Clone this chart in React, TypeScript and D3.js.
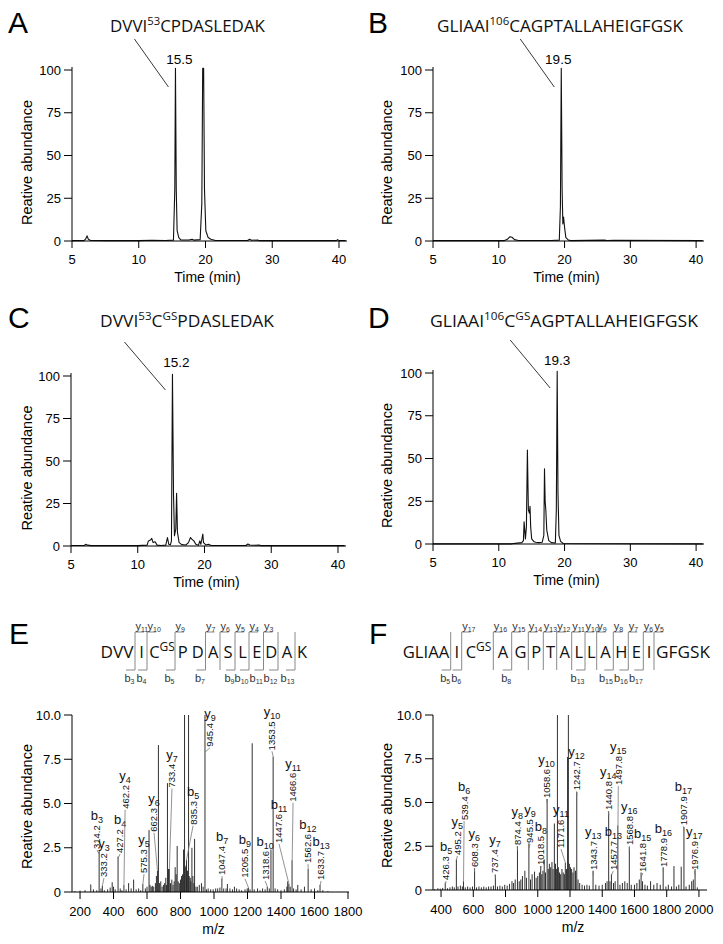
import React from "react";
import * as d3 from "d3";

type Pt = [number, number];
type Part = { t: string; sup?: boolean };

// ---------- data ----------
const chromTicks = [0, 10, 20, 30, 40];
const chromTickLabels = ["5", "10", "20", "30", "40"];
const abundTicks = [0, 25, 50, 75, 100];

const traceA: Pt[] = [[0,0.2],[1.8,0.2],[2.05,1.2],[2.25,3],[2.45,1],[2.8,0.3],[5,0.2],[10,0.2],[12,0.4],[14,0.3],[15.2,0.5],[15.4,30],[15.5,101],[15.62,30],[15.75,6],[16,2],[16.3,0.6],[17.5,0.6],[18,1],[18.3,0.5],[19.2,0.8],[19.45,22],[19.58,101],[19.72,101],[19.85,30],[20.05,6],[20.4,2],[20.8,1],[21.5,0.3],[26.3,0.3],[26.6,1],[26.9,0.4],[27.8,0.6],[28.1,0.2],[39.6,0.2],[39.8,0.8],[40,0.2],[41,0.2]];
const traceB: Pt[] = [[0,0.2],[10.8,0.2],[11.3,1],[11.7,2.5],[12,2.2],[12.4,0.8],[13,0.3],[18,0.3],[19.2,0.5],[19.37,20],[19.5,101],[19.63,30],[19.74,10],[19.85,14],[20,8],[20.2,2],[20.6,0.5],[21,0.2],[26,0.5],[26.5,0.3],[27.5,0.4],[41,0.2]];
const traceC: Pt[] = [[0,0.3],[2,0.3],[2.2,1],[2.5,0.5],[3,0.2],[10,0.2],[11.4,0.5],[11.6,3],[11.9,3.5],[12.1,4.5],[12.3,2],[12.6,2.5],[12.9,0.5],[13.5,0.3],[14.2,0.5],[14.45,5],[14.65,1],[14.9,0.8],[15.05,3],[15.2,101],[15.36,30],[15.5,6],[15.7,10],[15.82,31],[15.95,8],[16.2,2],[16.6,0.8],[17.2,0.6],[17.6,2],[17.9,5],[18.1,4],[18.4,3],[18.7,1],[19.1,0.5],[19.3,3],[19.45,1],[19.65,5],[19.75,7],[19.85,2],[20.2,0.6],[20.6,1],[21,0.3],[26.2,0.3],[26.5,1.2],[26.8,0.6],[27.5,0.4],[28.2,0.5],[28.5,0.2],[41,0.2]];
const traceD: Pt[] = [[0,0.1],[12,0.1],[12.8,0.5],[13.5,0.8],[13.75,2],[13.85,13],[13.95,8],[14.05,3],[14.2,10],[14.35,55],[14.5,20],[14.65,18],[14.75,22],[14.85,10],[15,3],[15.3,1.5],[15.6,1],[16.1,0.8],[16.6,1],[16.85,5],[16.95,44],[17.05,25],[17.15,20],[17.3,8],[17.6,2],[18,0.8],[18.6,0.6],[18.75,20],[18.88,101],[19,30],[19.15,5],[19.4,1.5],[19.8,0.3],[41,0.1]];

const titleA: Part[] = [{ t: "DVVI" }, { t: "53", sup: true }, { t: "CPDASLEDAK" }];
const titleB: Part[] = [{ t: "GLIAAI" }, { t: "106", sup: true }, { t: "CAGPTALLAHEIGFGSK" }];
const titleC: Part[] = [{ t: "DVVI" }, { t: "53", sup: true }, { t: "C" }, { t: "GS", sup: true }, { t: "PDASLEDAK" }];
const titleD: Part[] = [{ t: "GLIAAI" }, { t: "106", sup: true }, { t: "C" }, { t: "GS", sup: true }, { t: "AGPTALLAHEIGFGSK" }];

const specYTicks = [0, 2.5, 5, 7.5, 10];
const specYTickLabels = ["0", "2.5", "5.0", "7.5", "10.0"];
const specETicks = [200, 400, 600, 800, 1000, 1200, 1400, 1600, 1800];
const specFTicks = [400, 600, 800, 1000, 1200, 1400, 1600, 1800, 2000];

const peaksE: Pt[] = [[170,0.05],[200,0.08],[230,0.1],[264,0.43],[280,0.15],[300,0.1],[314,2.35],[325,0.2],[333,0.35],[345,0.1],[365,0.15],[380,0.25],[392,0.55],[400,0.3],[410,0.15],[427,2.0],[440,0.2],[450,0.1],[462,0.4],[475,0.15],[490,0.5],[505,0.2],[520,0.7],[535,0.15],[550,0.2],[562,0.1],[575,0.45],[590,0.2],[600,0.3],[612,3.5],[618,0.4],[625,0.3],[632,0.35],[640,0.3],[650,0.5],[656,0.9],[662,1.2],[668,8.3],[675,0.5],[682,0.6],[690,0.3],[698,0.4],[705,0.5],[712,0.8],[716,0.4],[722,6.15],[728,1.3],[733,1.3],[740,0.5],[748,0.7],[755,0.4],[762,0.6],[768,1.4],[774,1.0],[780,2.6],[786,0.6],[793,0.5],[800,0.7],[806,0.9],[812,1.0],[818,2.4],[824,10.5],[828,1.4],[833,1.5],[836,1.8],[842,1.2],[848,10.5],[852,0.9],[858,0.8],[862,0.6],[868,2.5],[874,0.9],[880,0.5],[884,3.0],[892,0.3],[900,0.3],[912,0.4],[925,0.5],[935,0.3],[946,10.5],[955,0.15],[965,0.2],[980,0.15],[995,0.15],[1010,0.2],[1022,0.2],[1035,0.25],[1047,0.75],[1058,0.2],[1072,0.2],[1080,0.45],[1095,0.2],[1110,0.15],[1122,0.3],[1135,0.2],[1150,0.15],[1165,0.1],[1185,0.15],[1198,0.2],[1205,0.25],[1215,0.15],[1228,8.4],[1240,0.15],[1260,0.2],[1275,0.1],[1290,0.2],[1305,0.15],[1318,0.3],[1330,0.2],[1340,2.4],[1353,7.65],[1365,0.2],[1380,0.15],[1400,0.1],[1420,0.15],[1435,0.3],[1440,0.6],[1447,0.45],[1455,0.3],[1466,1.8],[1475,0.2],[1490,0.15],[1500,0.4],[1520,0.15],[1540,0.3],[1562,1.3],[1580,0.15],[1600,0.2],[1620,0.1],[1633,0.4],[1650,0.1],[1680,0.05]];

const peaksF: Pt[] = [[360,0.05],[380,0.1],[395,0.08],[410,0.12],[426,0.42],[440,0.1],[455,0.15],[470,0.2],[482,0.15],[495,1.75],[505,0.2],[520,0.25],[532,0.2],[539,0.5],[550,0.15],[565,0.2],[580,0.15],[595,0.2],[608,1.24],[620,0.15],[635,0.2],[650,0.15],[665,0.2],[680,0.15],[695,0.2],[710,0.2],[725,0.25],[737,0.86],[750,0.2],[765,0.25],[780,0.2],[795,0.3],[810,0.25],[825,0.35],[840,0.5],[850,0.4],[860,0.6],[874,2.5],[885,0.5],[895,0.6],[905,0.8],[920,1.1],[930,0.7],[945,2.67],[955,0.6],[965,0.9],[980,1.05],[990,0.7],[1000,0.8],[1010,1.0],[1018,1.37],[1025,0.9],[1032,1.1],[1040,1.75],[1048,1.0],[1058,5.2],[1065,1.2],[1072,1.5],[1080,1.3],[1088,1.6],[1095,1.2],[1103,3.8],[1110,1.5],[1117,1.2],[1122,10.5],[1128,1.3],[1135,1.0],[1142,0.9],[1150,1.2],[1158,1.0],[1165,0.9],[1171,1.55],[1178,1.2],[1185,7.6],[1190,10.5],[1196,1.5],[1203,1.3],[1210,1.2],[1218,1.0],[1225,1.3],[1234,1.1],[1242,5.6],[1250,0.6],[1260,0.4],[1275,0.3],[1290,0.25],[1305,0.3],[1320,0.25],[1343,1.1],[1360,0.3],[1380,0.25],[1400,0.3],[1420,0.4],[1430,0.5],[1440,4.5],[1448,0.5],[1457,0.9],[1470,0.4],[1480,0.5],[1497,3.7],[1510,0.3],[1525,0.4],[1540,0.5],[1555,0.4],[1568,2.45],[1580,0.3],[1600,0.3],[1615,0.4],[1630,0.6],[1641,1.0],[1650,0.5],[1665,0.3],[1680,0.25],[1700,0.5],[1720,0.3],[1740,0.4],[1760,0.3],[1778,1.3],[1795,0.2],[1810,0.3],[1830,0.2],[1845,1.37],[1860,0.2],[1875,0.3],[1890,1.33],[1907,3.6],[1920,0.2],[1940,0.3],[1955,0.5],[1965,0.6],[1976,1.2],[1990,0.15]];

type Lab = { ion: string; n: number; mass: string; at: number; top: number };
const labelsE: Lab[] = [
  { ion: "b", n: 3, mass: "314.2", at: 301, top: 2.43 },
  { ion: "y", n: 3, mass: "333.2", at: 343, top: 0.85 },
  { ion: "b", n: 4, mass: "427.2", at: 439, top: 2.2 },
  { ion: "y", n: 4, mass: "462.2", at: 469, top: 4.7 },
  { ion: "y", n: 5, mass: "575.3", at: 582, top: 1.07 },
  { ion: "y", n: 6, mass: "662.3", at: 642, top: 3.4 },
  { ion: "y", n: 7, mass: "733.4", at: 749, top: 5.9 },
  { ion: "b", n: 5, mass: "835.3", at: 875, top: 3.8 },
  { ion: "y", n: 9, mass: "945.4", at: 976, top: 8.2 },
  { ion: "b", n: 7, mass: "1047.4", at: 1048, top: 0.96 },
  { ion: "b", n: 9, mass: "1205.5", at: 1185, top: 0.8 },
  { ion: "b", n: 10, mass: "1318.6", at: 1305, top: 0.68 },
  { ion: "y", n: 10, mass: "1353.5", at: 1346, top: 8.0 },
  { ion: "b", n: 11, mass: "1447.6", at: 1388, top: 2.77 },
  { ion: "y", n: 11, mass: "1466.6", at: 1472, top: 5.1 },
  { ion: "b", n: 12, mass: "1562.6", at: 1561, top: 1.64 },
  { ion: "b", n: 13, mass: "1633.7", at: 1639, top: 0.68 },
];
const labelsF: Lab[] = [
  { ion: "b", n: 5, mass: "426.3", at: 431, top: 0.57 },
  { ion: "y", n: 5, mass: "495.2", at: 501, top: 2.0 },
  { ion: "b", n: 6, mass: "539.4", at: 543, top: 4.0 },
  { ion: "y", n: 6, mass: "608.3", at: 606.5, top: 1.31 },
  { ion: "y", n: 7, mass: "737.4", at: 735, top: 0.97 },
  { ion: "y", n: 8, mass: "874.4", at: 873, top: 2.57 },
  { ion: "y", n: 9, mass: "945.5", at: 952, top: 2.69 },
  { ion: "b", n: 8, mass: "1018.5", at: 1020, top: 1.43 },
  { ion: "y", n: 10, mass: "1058.6", at: 1055, top: 5.26 },
  { ion: "y", n: 11, mass: "1171.6", at: 1144, top: 2.4 },
  { ion: "y", n: 12, mass: "1242.7", at: 1241, top: 5.7 },
  { ion: "y", n: 13, mass: "1343.7", at: 1345, top: 1.14 },
  { ion: "y", n: 14, mass: "1440.8", at: 1437.5, top: 4.57 },
  { ion: "b", n: 13, mass: "1457.7", at: 1468.5, top: 1.14 },
  { ion: "y", n: 15, mass: "1497.8", at: 1499.5, top: 6.0 },
  { ion: "y", n: 16, mass: "1568.8", at: 1568, top: 2.57 },
  { ion: "b", n: 15, mass: "1641.8", at: 1651, top: 1.03 },
  { ion: "b", n: 16, mass: "1778.9", at: 1779, top: 1.31 },
  { ion: "b", n: 17, mass: "1907.9", at: 1903, top: 3.7 },
  { ion: "y", n: 17, mass: "1976.9", at: 1971, top: 1.14 },
];

// sequences: segments between drawn cleavage dividers
const seqE = ["DVV", "I", "C^GS", "P D", "A", "S", "L", "E", "D", "A", "K"];
const bIonsE = [3, 4, 5, 7, 9, 10, 11, 12, 13];
const yIonsE = [11, 10, 9, 7, 6, 5, 4, 3];
const seqF = ["GLIAA", "I", "C^GS", "A", "G", "P", "T", "A", "L", "L", "A", "H", "E", "I", "GFGSK"];
const bIonsF = [5, 6, 8, 13, 15, 16, 17];
const yIonsF = [17, 16, 15, 14, 13, 12, 11, 10, 9, 8, 7, 6, 5];

// ---------- layout ----------
const SANS = "'Liberation Sans', Arial, sans-serif";
const SEQ = "'Open Sans', 'Liberation Sans', sans-serif";
const dividersE = [135, 147, 175, 205.5, 220, 235, 249, 263.5, 278, 295];
const dividersF = [450.7, 461.7, 493.3, 511.7, 528.3, 543.3, 556.7, 571.7, 585, 596.7, 613.3, 628.3, 643.3, 654];

function Parts({ parts, x, y, size, supSize, anchor, width }: { parts: Part[]; x: number; y: number; size: number; supSize: number; anchor?: string; width?: number }) {
  let prevSup = false;
  const extra: any = width ? { textLength: width, lengthAdjust: "spacingAndGlyphs" } : {};
  return (
    <text x={x} y={y} fontSize={size} fontFamily={SEQ} textAnchor={anchor || "start"} fill="#111" {...extra}>
      {parts.map((p, i) => {
        let dy = 0;
        if (p.sup && !prevSup) dy = -size * 0.42;
        if (!p.sup && prevSup) dy = size * 0.42;
        prevSup = !!p.sup;
        return (
          <tspan key={i} dy={dy} fontSize={p.sup ? supSize : size}>{p.t}</tspan>
        );
      })}
    </text>
  );
}

function Chrom(p: { trace: Pt[]; left: number; right: number; base: number; top: number; ox: number; oy: number; letter: string; title: Part[]; titleX: number; titleW: number; label: string; apex: number; labelY: number; labelDx: number; leadX: number }) {
  const x = d3.scaleLinear().domain([0, 41.2]).range([p.left, p.right]);
  const y = d3.scaleLinear().domain([0, 100]).range([p.base, p.top]);
  const path = d3.line<Pt>().x((d) => x(d[0])).y((d) => y(d[1]))(p.trace) || "";
  const ax = x(p.apex);
  const ex = ax - 7, ey = p.labelY + 23;
  const cy = (p.base + p.top) / 2 + 7;
  return (
    <g fontFamily={SANS}>
      <text x={p.ox + 8} y={p.oy + 33} fontSize={30} fill="#000">{p.letter}</text>
      <Parts parts={p.title} x={p.titleX} y={p.oy + 32} size={16.5} supSize={11} width={p.titleW} />
      <text x={ax + p.labelDx} y={p.labelY} fontSize={13.5} textAnchor="middle">{p.label}</text>
      <line x1={ex - p.leadX} y1={ey - 48} x2={ex} y2={ey} stroke="#222" strokeWidth={0.9} />
      <path d={path} fill="none" stroke="#111" strokeWidth={1.1} strokeLinejoin="round" />
      <line x1={p.left} x2={p.left} y1={p.base} y2={y(100) - 3} stroke="#000" strokeWidth={1} />
      <line x1={p.left} x2={p.right} y1={p.base} y2={p.base} stroke="#000" strokeWidth={1} />
      {abundTicks.map((t) => (
        <g key={t}>
          <line x1={p.left - 8} x2={p.left} y1={y(t)} y2={y(t)} stroke="#000" />
          <text x={p.left - 11} y={y(t) + 4.5} fontSize={13} textAnchor="end">{t}</text>
        </g>
      ))}
      {chromTicks.map((t, i) => (
        <g key={t}>
          <line x1={x(t)} x2={x(t)} y1={p.base} y2={p.base + 7} stroke="#000" />
          <text x={x(t)} y={p.base + 23} fontSize={13} textAnchor="middle">{chromTickLabels[i]}</text>
        </g>
      ))}
      <text x={(p.left + p.right) / 2 - 2} y={p.base + 41} fontSize={14} textAnchor="middle">Time (min)</text>
      <text transform={`translate(${p.ox + 32},${cy}) rotate(-90)`} fontSize={14.5} textAnchor="middle">Reative abundance</text>
    </g>
  );
}

function textLen(s: string, fs: number) {
  let w = 0;
  for (const c of s) w += c === "." ? 0.278 : 0.556;
  return w * fs;
}

function Spectrum(p: { peaks: Pt[]; labels: Lab[]; ticks: number[]; domain: [number, number]; left: number; right: number; base: number; top: number; ox: number }) {
  const x = d3.scaleLinear().domain(p.domain).range([p.left, p.right]);
  const y = d3.scaleLinear().domain([0, 10]).range([p.base, p.top]);
  const peakAt = (m: number) => {
    let best = 0;
    for (const [pm, v] of p.peaks) if (Math.abs(pm - m) < 4) best = Math.max(best, v);
    return best;
  };
  const cy = (p.base + p.top) / 2 + 3;
  return (
    <g fontFamily={SANS}>
      {p.peaks.map(([m, v], i) => (
        <line key={i} x1={x(m)} x2={x(m)} y1={p.base} y2={y(Math.min(v, 10))} stroke="#1a1a1a" strokeWidth={0.9} />
      ))}
      {p.labels.map((l, i) => {
        const mz = parseFloat(l.mass);
        const pk = peakAt(mz);
        const lx = x(l.at), ly = y(l.top);
        const fs = 9.5;
        const len = textLen(l.mass, fs);
        return (
          <g key={i}>
            <line x1={x(mz)} y1={y(Math.min(pk, l.top - 0.3))} x2={lx} y2={ly + 1} stroke="#777" strokeWidth={0.8} />
            <text transform={`translate(${lx + fs * 0.36},${ly}) rotate(-90)`} fontSize={fs} fill="#111">{l.mass}</text>
            <text x={lx} y={ly - len - 5} fontSize={13} textAnchor="middle" fill="#111">
              {l.ion}
              <tspan fontSize={9} dy={3}>{l.n}</tspan>
            </text>
          </g>
        );
      })}
      <line x1={p.left} x2={p.left} y1={p.base} y2={p.top} stroke="#000" />
      <line x1={p.left} x2={p.right} y1={p.base} y2={p.base} stroke="#000" />
      {specYTicks.map((t, i) => (
        <g key={t}>
          <line x1={p.left - 8} x2={p.left} y1={y(t)} y2={y(t)} stroke="#000" />
          <text x={p.left - 11} y={y(t) + 4.5} fontSize={13} textAnchor="end">{specYTickLabels[i]}</text>
        </g>
      ))}
      {p.ticks.map((t) => (
        <g key={t}>
          <line x1={x(t)} x2={x(t)} y1={p.base} y2={p.base + 7} stroke="#000" />
          <text x={x(t)} y={p.base + 24} fontSize={13} textAnchor="middle">{t}</text>
        </g>
      ))}
      <text x={(p.left + p.right) / 2 + 3} y={p.base + 42} fontSize={14} textAnchor="middle">m/z</text>
      <text transform={`translate(${p.ox + 32},${cy}) rotate(-90)`} fontSize={14.5} textAnchor="middle">Reative abundance</text>
    </g>
  );
}

function Sequence({ segs, dividers, n, bIons, yIons, ox, letter, firstW, lastW }: { segs: string[]; dividers: number[]; n: number; bIons: number[]; yIons: number[]; ox: number; letter: string; firstW?: number; lastW?: number }) {
  const base = 658, top = 632, bot = 670;
  const sites: number[] = [];
  let c = 0;
  segs.forEach((s, i) => {
    c += s.replace("^GS", "").replace(/ /g, "").length;
    if (i < segs.length - 1) sites.push(c);
  });
  const segText = (s: string, x: number, anchor: string, key: number, w?: number) => {
    const parts: Part[] = s.includes("^") ? [{ t: s.split("^")[0] }, { t: s.split("^")[1], sup: true }] : [{ t: s }];
    return (
      <g key={key}>
        <Parts parts={parts} x={x} y={base} size={16.5} supSize={12} anchor={anchor} width={w} />
      </g>
    );
  };
  return (
    <g>
      <text x={ox + 9} y={644} fontSize={30} fontFamily={SANS}>{letter}</text>
      {segs.map((s, i) => {
        if (i === 0) return segText(s, dividers[0] - 1.5, "end", i, firstW);
        if (i === segs.length - 1) return segText(s, dividers[i - 1] + 2, "start", i, lastW);
        return segText(s, (dividers[i - 1] + dividers[i]) / 2 + (s.includes("^") ? 1 : 0.5), "middle", i);
      })}
      {dividers.map((d, i) => {
        const site = sites[i];
        const hasB = bIons.includes(site);
        const yNum = n - site;
        const hasY = yIons.includes(yNum);
        return (
          <g key={i} fontFamily={SANS} fill="#333">
            <line x1={d} x2={d} y1={top} y2={bot} stroke="#888" strokeWidth={1} />
            {hasY && <line x1={d} x2={d + 9} y1={top} y2={top} stroke="#888" strokeWidth={1} />}
            {hasB && <line x1={d - 9} x2={d} y1={bot} y2={bot} stroke="#888" strokeWidth={1} />}
            {hasY && (
              <text x={d + 0.5} y={top - 2} fontSize={11}>
                y<tspan fontSize={7} dy={2}>{yNum}</tspan>
              </text>
            )}
            {hasB && (
              <text x={d - 0.5} y={bot + 12} fontSize={11} textAnchor="end">
                b<tspan fontSize={7} dy={2}>{site}</tspan>
              </text>
            )}
          </g>
        );
      })}
    </g>
  );
}

export default function App() {
  return (
    <svg width={723} height={944} viewBox="0 0 723 944" style={{ position: "absolute", left: 0, top: 0, background: "#fff" }}>
      <rect width={723} height={944} fill="#fff" />
      <Chrom trace={traceA} left={72} right={347} base={241} top={70} ox={0} oy={0} letter="A" title={titleA} titleX={110} titleW={155} label="15.5" apex={15.5} labelY={64} labelDx={4} leadX={34} />
      <Chrom trace={traceB} left={433} right={704} base={241} top={70} ox={360} oy={0} letter="B" title={titleB} titleX={437} titleW={246} label="19.5" apex={19.5} labelY={64} labelDx={-3} leadX={34} />
      <Chrom trace={traceC} left={71} right={346} base={546} top={376} ox={0} oy={295} letter="C" title={titleC} titleX={100} titleW={174} label="15.2" apex={15.2} labelY={367} labelDx={4} leadX={41} />
      <Chrom trace={traceD} left={433} right={704} base={544} top={373} ox={360} oy={295} letter="D" title={titleD} titleX={430} titleW={268} label="19.3" apex={18.88} labelY={365} labelDx={0} leadX={40} />
      <Sequence segs={seqE} dividers={dividersE} n={14} bIons={bIonsE} yIons={yIonsE} ox={0} letter="E" firstW={33} />
      <Sequence segs={seqF} dividers={dividersF} n={23} bIons={bIonsF} yIons={yIonsF} ox={360} letter="F" firstW={46.5} lastW={54} />
      <Spectrum peaks={peaksE} labels={labelsE} ticks={specETicks} domain={[152, 1806]} left={72} right={349} base={892} top={715} ox={0} />
      <Spectrum peaks={peaksF} labels={labelsF} ticks={specFTicks} domain={[350, 2050]} left={433} right={707} base={890} top={715} ox={360} />
    </svg>
  );
}
